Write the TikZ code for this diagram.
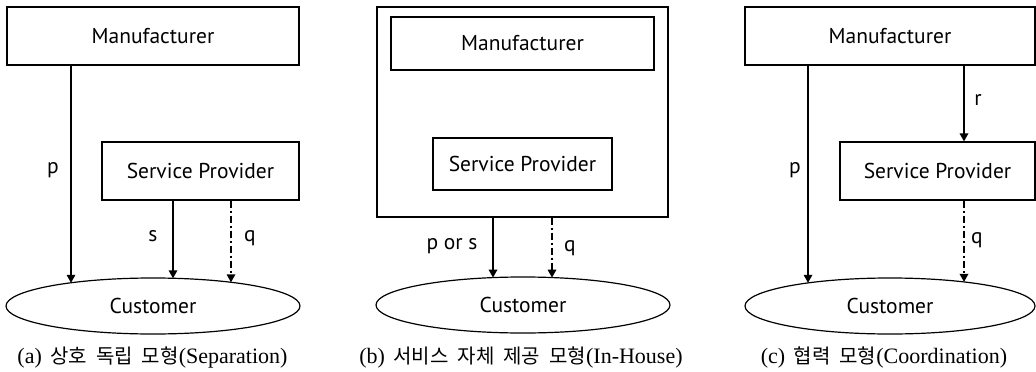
\documentclass[tikz,border=0pt]{standalone}
\usepackage{fontspec}
\setmainfont{Liberation Serif}
\newfontfamily\lblfont{PT Sans}
\newfontfamily\kr{Noto Sans CJK KR}
\newcommand{\kgap}{\hspace{9pt}}
\usetikzlibrary{shapes.geometric,arrows.meta}

\begin{document}
\begin{tikzpicture}[x=1pt, y=-1pt,
    box/.style={draw, line width=1.2pt, inner sep=0pt, font=\lblfont\fontsize{21.5}{24}\selectfont},
    cust/.style={draw, ellipse, line width=1.2pt, inner sep=0pt, font=\lblfont\fontsize{21.5}{24}\selectfont},
    arr/.style={line width=1.7pt, -{Triangle[length=8pt, width=8.5pt]}},
    darr/.style={arr, dash pattern=on 7pt off 3pt on 2pt off 3pt},
    lbl/.style={inner sep=0pt, font=\lblfont\fontsize{21.5}{24}\selectfont},
    capt/.style={inner sep=0pt, anchor=base, font=\fontsize{22}{24}\selectfont}]
    \useasboundingbox (0,0) rectangle (1036,372);

    % (a) separation
    \node[box, minimum width=292pt, minimum height=58pt] (ma) at (153,36) {Manufacturer};
    \node[box, minimum width=197pt, minimum height=58pt] (sa) at (200.5,171) {Service Provider};
    \node[cust, minimum width=294pt, minimum height=56pt] (ca) at (153,306) {Customer};
    \coordinate (pa) at (71,282.8);
    \coordinate (qa) at (173,278.3);
    \coordinate (ra) at (231,282.3);
    \draw[arr] (ma.south -| pa) -- (pa);
    \draw[arr] (sa.south -| qa) -- (qa);
    \draw[darr] (sa.south -| ra) -- (ra);
    \node[lbl] (la) at (53,170) {p};
    \node[lbl] (lsa) at (153,236) {s};
    \node[lbl] (lqa) at (250,238) {q};
    \node[capt] (capa) at (152.5,363) {(a)\hspace{3pt} {\kr\fontsize{20}{22}\selectfont 상호\kgap 독립\kgap 모형}(Separation)};

    % (b) in-house
    \node[box, minimum width=291pt, minimum height=210pt] (firm) at (522.5,112) {};
    \node[box, minimum width=263pt, minimum height=53pt] (mb) at (522.5,43.5) {Manufacturer};
    \node[box, minimum width=179pt, minimum height=52pt] (sb) at (522.5,164) {Service Provider};
    \node[cust, minimum width=294pt, minimum height=56pt] (cb) at (523,305) {Customer};
    \coordinate (pb) at (493,277.6);
    \coordinate (qb) at (552,277.6);
    \draw[arr] (firm.south -| pb) -- (pb);
    \draw[darr] (firm.south -| qb) -- (qb);
    \node[lbl] (lpb) at (452,246) {p or s};
    \node[lbl] (lqb) at (570,248) {q};
    \node[capt] (capb) at (521,363) {(b)\hspace{3pt} {\kr\fontsize{20}{22}\selectfont 서비스\kgap 자체\kgap 제공\kgap 모형}(In-House)};

    % (c) coordination
    \node[box, minimum width=290pt, minimum height=58pt] (mc) at (890,36) {Manufacturer};
    \node[box, minimum width=195pt, minimum height=58pt] (sc) at (937.5,171) {Service Provider};
    \node[cust, minimum width=290pt, minimum height=56pt] (cc) at (890,306) {Customer};
    \coordinate (pc) at (808,282.8);
    \coordinate (qc) at (964,281.9);
    \draw[arr] (mc.south -| pc) -- (pc);
    \draw[arr] (mc.south -| qc) -- (sc.north -| qc);
    \draw[darr] (sc.south -| qc) -- (qc);
    \node[lbl] (lpc) at (795,170) {p};
    \node[lbl] (lrc) at (978,100) {r};
    \node[lbl] (lqc) at (977,240) {q};
    \node[capt] (capc) at (884,363) {(c)\hspace{3pt} {\kr\fontsize{20}{22}\selectfont 협력\kgap 모형}(Coordination)};
\end{tikzpicture}
\end{document}
